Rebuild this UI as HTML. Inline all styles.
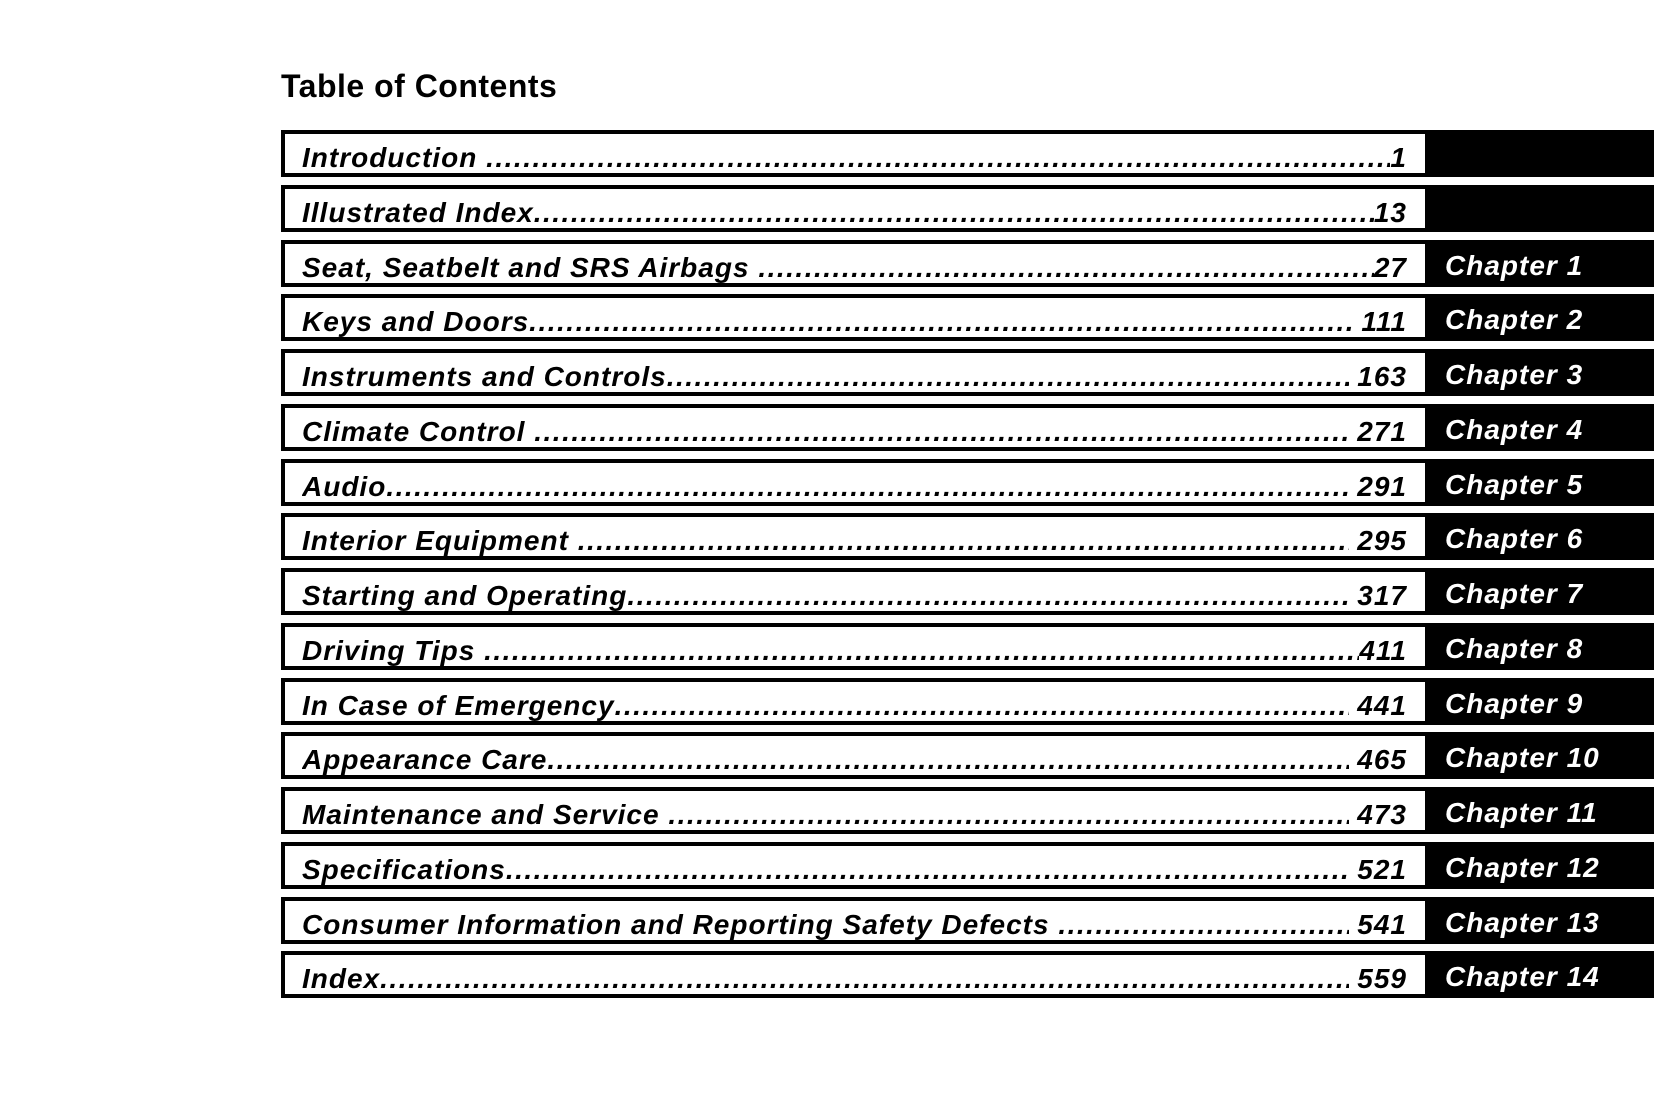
<!DOCTYPE html>
<html><head><meta charset="utf-8"><style>
body{margin:0;width:1654px;height:1103px;background:#fff;position:relative;overflow:hidden;font-family:"Liberation Sans",Arial,sans-serif;}
h1{position:absolute;left:281px;top:68px;margin:0;font-size:32px;font-weight:bold;color:#000;letter-spacing:0.5px;}
.row{position:absolute;left:281px;width:1373px;height:47px;}
.box{position:absolute;left:0;top:0;width:1144px;height:47px;box-sizing:border-box;border:4px solid #000;border-right:none;background:#fff;}
.blk{position:absolute;left:1144px;top:0;right:0;height:47px;background:#000;color:#fff;font-weight:bold;font-style:italic;font-size:28px;line-height:51px;padding-left:20px;box-sizing:border-box;letter-spacing:1px;}
.t{position:absolute;left:17px;right:18px;top:4px;height:39px;line-height:40px;font-weight:bold;font-style:italic;font-size:28px;display:flex;white-space:nowrap;overflow:hidden;letter-spacing:1px;}
.d{flex:1;overflow:hidden;letter-spacing:1.5px;}
.d::after{content:"..................................................................................................................................................................................................................................................";}
</style></head><body>
<h1>Table of Contents</h1>
<div class="row" style="top:130px"><div class="box"><div class="t"><span>Introduction&nbsp;</span><span class="d"></span><span>1</span></div></div><div class="blk"></div></div>
<div class="row" style="top:185px"><div class="box"><div class="t"><span>Illustrated Index</span><span class="d"></span><span>13</span></div></div><div class="blk"></div></div>
<div class="row" style="top:240px"><div class="box"><div class="t"><span>Seat, Seatbelt and SRS Airbags&nbsp;</span><span class="d"></span><span>27</span></div></div><div class="blk">Chapter 1</div></div>
<div class="row" style="top:294px"><div class="box"><div class="t"><span>Keys and Doors</span><span class="d"></span><span>&nbsp;111</span></div></div><div class="blk">Chapter 2</div></div>
<div class="row" style="top:349px"><div class="box"><div class="t"><span>Instruments and Controls</span><span class="d"></span><span>&nbsp;163</span></div></div><div class="blk">Chapter 3</div></div>
<div class="row" style="top:404px"><div class="box"><div class="t"><span>Climate Control&nbsp;</span><span class="d"></span><span>&nbsp;271</span></div></div><div class="blk">Chapter 4</div></div>
<div class="row" style="top:459px"><div class="box"><div class="t"><span>Audio</span><span class="d"></span><span>&nbsp;291</span></div></div><div class="blk">Chapter 5</div></div>
<div class="row" style="top:513px"><div class="box"><div class="t"><span>Interior Equipment&nbsp;</span><span class="d"></span><span>&nbsp;295</span></div></div><div class="blk">Chapter 6</div></div>
<div class="row" style="top:568px"><div class="box"><div class="t"><span>Starting and Operating</span><span class="d"></span><span>&nbsp;317</span></div></div><div class="blk">Chapter 7</div></div>
<div class="row" style="top:623px"><div class="box"><div class="t"><span>Driving Tips&nbsp;</span><span class="d"></span><span>411</span></div></div><div class="blk">Chapter 8</div></div>
<div class="row" style="top:678px"><div class="box"><div class="t"><span>In Case of Emergency</span><span class="d"></span><span>&nbsp;441</span></div></div><div class="blk">Chapter 9</div></div>
<div class="row" style="top:732px"><div class="box"><div class="t"><span>Appearance Care</span><span class="d"></span><span>&nbsp;465</span></div></div><div class="blk">Chapter 10</div></div>
<div class="row" style="top:787px"><div class="box"><div class="t"><span>Maintenance and Service&nbsp;</span><span class="d"></span><span>&nbsp;473</span></div></div><div class="blk">Chapter 11</div></div>
<div class="row" style="top:842px"><div class="box"><div class="t"><span>Specifications</span><span class="d"></span><span>&nbsp;521</span></div></div><div class="blk">Chapter 12</div></div>
<div class="row" style="top:897px"><div class="box"><div class="t"><span>Consumer Information and Reporting Safety Defects&nbsp;</span><span class="d"></span><span>&nbsp;541</span></div></div><div class="blk">Chapter 13</div></div>
<div class="row" style="top:951px"><div class="box"><div class="t"><span>Index</span><span class="d"></span><span>&nbsp;559</span></div></div><div class="blk">Chapter 14</div></div>
</body></html>
